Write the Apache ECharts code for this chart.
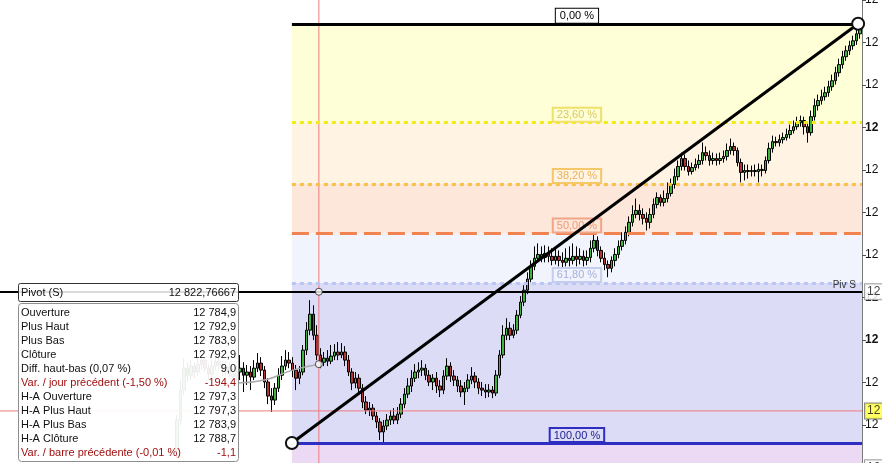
<!DOCTYPE html>
<html>
<head>
<meta charset="utf-8">
<script src="https://cdn.jsdelivr.net/npm/echarts@6/dist/echarts.min.js"></script>
<style>
  html, body { margin: 0; padding: 0; background: #fff; }
  #chart { width: 882px; height: 463px; }
</style>
</head>
<body>
<div id="chart"></div>
<script>
  // bars 0..49 are off screen / empty, data starts at bar 50
  var barCount = 246, firstBar = 50;

  var opens = [
    12748.3, 12762.4, 12776.5, 12786.8, 12783.5, 12787.8, 12785.0, 12788.7, 12790.6, 12786.8,
    12784.0, 12787.8, 12790.1, 12788.3, 12785.4, 12787.3, 12784.0, 12782.6, 12785.0, 12786.8,
    12783.5, 12785.0, 12782.6, 12786.8, 12789.2, 12785.9, 12780.3, 12773.7, 12771.8, 12777.4,
    12783.5, 12787.8, 12790.6, 12789.2, 12785.9, 12782.1, 12785.0, 12795.3, 12804.7, 12812.2,
    12802.3, 12793.0, 12789.6, 12791.5, 12790.1, 12792.5, 12794.4, 12793.0, 12794.4, 12790.6,
    12785.0, 12779.8, 12782.1, 12777.4, 12770.9, 12767.1, 12768.0, 12764.3, 12761.5, 12756.8,
    12759.6, 12762.4, 12764.3, 12762.4, 12765.2, 12769.9, 12774.6, 12778.4, 12782.1, 12785.0,
    12785.9, 12786.8, 12783.5, 12780.3, 12782.1, 12778.4, 12776.5, 12783.1, 12787.8, 12783.1,
    12781.2, 12778.4, 12775.6, 12777.4, 12781.2, 12783.1, 12780.3, 12777.4, 12776.5, 12775.6,
    12776.5, 12775.1, 12783.5, 12793.0, 12802.3, 12805.6, 12802.3, 12804.7, 12811.7, 12817.9,
    12823.5, 12828.7, 12834.7, 12838.5, 12840.3, 12838.9, 12840.8, 12839.4, 12837.5, 12839.4,
    12837.5, 12836.6, 12838.5, 12837.5, 12839.4, 12838.0, 12839.4, 12837.5, 12838.9, 12843.2,
    12846.9, 12842.2, 12838.5, 12835.6, 12833.8, 12837.5, 12840.3, 12844.1, 12846.9, 12850.7,
    12855.4, 12859.1, 12861.0, 12859.1, 12857.3, 12855.4, 12859.1, 12863.8, 12867.1, 12864.8,
    12866.6, 12869.0, 12873.2, 12876.9, 12881.7, 12885.4, 12881.7, 12879.3, 12881.2, 12882.6,
    12884.5, 12888.2, 12886.8, 12884.5, 12885.4, 12884.5, 12885.4, 12886.4, 12889.2, 12891.1,
    12889.2, 12883.5, 12878.9, 12879.8, 12879.3, 12879.8, 12879.3, 12880.3, 12879.8, 12884.5,
    12890.1, 12893.4, 12892.9, 12894.3, 12895.3, 12896.7, 12898.6, 12900.4, 12902.3, 12903.3,
    12900.4, 12897.6, 12905.1, 12910.3, 12912.7, 12914.5, 12916.4, 12919.2, 12922.0, 12925.8,
    12929.6, 12933.3, 12936.1, 12938.5, 12940.8, 12944.1
  ];
  var closes = [
    12762.4, 12776.5, 12786.8, 12783.5, 12787.8, 12785.0, 12788.7, 12790.6, 12786.8, 12784.0,
    12787.8, 12790.1, 12788.3, 12785.4, 12787.3, 12784.0, 12782.6, 12785.0, 12786.8, 12783.5,
    12785.0, 12782.6, 12786.8, 12789.2, 12785.9, 12780.3, 12773.7, 12771.8, 12777.4, 12783.5,
    12787.8, 12790.6, 12789.2, 12785.9, 12782.1, 12785.0, 12795.3, 12804.7, 12812.2, 12802.3,
    12793.0, 12789.6, 12791.5, 12790.1, 12792.5, 12794.4, 12793.0, 12794.4, 12790.6, 12785.0,
    12779.8, 12782.1, 12777.4, 12770.9, 12767.1, 12768.0, 12764.3, 12761.5, 12756.8, 12759.6,
    12762.4, 12764.3, 12762.4, 12765.2, 12769.9, 12774.6, 12778.4, 12782.1, 12785.0, 12785.9,
    12786.8, 12783.5, 12780.3, 12782.1, 12778.4, 12776.5, 12783.1, 12787.8, 12783.1, 12781.2,
    12778.4, 12775.6, 12777.4, 12781.2, 12783.1, 12780.3, 12777.4, 12776.5, 12775.6, 12776.5,
    12775.1, 12783.5, 12793.0, 12802.3, 12805.6, 12802.3, 12804.7, 12811.7, 12817.9, 12823.5,
    12828.7, 12834.7, 12838.5, 12840.3, 12838.9, 12840.8, 12839.4, 12837.5, 12839.4, 12837.5,
    12836.6, 12838.5, 12837.5, 12839.4, 12838.0, 12839.4, 12837.5, 12838.9, 12843.2, 12846.9,
    12842.2, 12838.5, 12835.6, 12833.8, 12837.5, 12840.3, 12844.1, 12846.9, 12850.7, 12855.4,
    12859.1, 12861.0, 12859.1, 12857.3, 12855.4, 12859.1, 12863.8, 12867.1, 12864.8, 12866.6,
    12869.0, 12873.2, 12876.9, 12881.7, 12885.4, 12881.7, 12879.3, 12881.2, 12882.6, 12884.5,
    12888.2, 12886.8, 12884.5, 12885.4, 12884.5, 12885.4, 12886.4, 12889.2, 12891.1, 12889.2,
    12883.5, 12878.9, 12879.8, 12879.3, 12879.8, 12879.3, 12880.3, 12879.8, 12884.5, 12890.1,
    12893.4, 12892.9, 12894.3, 12895.3, 12896.7, 12898.6, 12900.4, 12902.3, 12903.3, 12900.4,
    12897.6, 12905.1, 12910.3, 12912.7, 12914.5, 12916.4, 12919.2, 12922.0, 12925.8, 12929.6,
    12933.3, 12936.1, 12938.5, 12940.8, 12944.1, 12946.9
  ];
  var lows = [
    12744.5, 12760.1, 12774.1, 12780.3, 12781.2, 12782.1, 12783.1, 12785.9, 12785.0, 12781.2,
    12782.1, 12785.9, 12785.9, 12783.1, 12783.1, 12782.1, 12779.8, 12780.7, 12781.2, 12775.6,
    12778.9, 12776.5, 12781.2, 12785.0, 12783.1, 12777.4, 12769.9, 12766.2, 12769.5, 12775.6,
    12781.2, 12785.9, 12786.8, 12782.6, 12776.5, 12779.3, 12783.5, 12793.0, 12802.3, 12800.0,
    12790.6, 12786.8, 12787.8, 12787.8, 12788.7, 12790.6, 12790.6, 12791.5, 12787.8, 12783.1,
    12776.5, 12777.4, 12774.6, 12768.0, 12765.2, 12764.3, 12762.4, 12758.6, 12753.0, 12751.6,
    12757.7, 12760.1, 12760.5, 12760.5, 12763.3, 12768.0, 12772.7, 12775.6, 12780.3, 12782.1,
    12783.1, 12781.2, 12778.4, 12776.5, 12775.1, 12773.2, 12774.6, 12781.2, 12780.3, 12778.4,
    12775.6, 12773.2, 12769.5, 12775.6, 12779.3, 12777.4, 12774.6, 12773.7, 12772.7, 12773.2,
    12772.7, 12773.7, 12782.1, 12791.5, 12800.0, 12800.0, 12800.9, 12802.8, 12810.3, 12816.0,
    12821.6, 12827.2, 12832.9, 12836.6, 12836.6, 12836.6, 12836.6, 12835.2, 12835.6, 12834.7,
    12833.8, 12834.7, 12834.7, 12835.6, 12834.7, 12835.6, 12834.7, 12835.2, 12836.6, 12841.3,
    12839.4, 12836.6, 12832.9, 12829.6, 12831.9, 12834.7, 12838.5, 12842.2, 12845.0, 12848.8,
    12853.5, 12857.3, 12856.3, 12854.4, 12851.6, 12852.5, 12857.3, 12862.0, 12862.9, 12862.9,
    12864.8, 12867.6, 12871.3, 12875.1, 12879.8, 12879.8, 12877.4, 12877.9, 12879.8, 12880.7,
    12882.6, 12884.5, 12882.1, 12882.6, 12882.1, 12882.6, 12883.5, 12884.5, 12887.3, 12886.8,
    12881.7, 12874.2, 12875.1, 12876.0, 12877.0, 12877.0, 12874.2, 12877.0, 12878.4, 12883.1,
    12888.2, 12891.1, 12891.1, 12892.5, 12893.9, 12894.8, 12897.2, 12899.0, 12900.4, 12896.7,
    12892.9, 12896.2, 12903.3, 12908.0, 12910.8, 12912.7, 12914.5, 12917.3, 12920.2, 12923.9,
    12927.7, 12931.4, 12934.2, 12936.6, 12938.9, 12941.8
  ];
  var highs = [
    12764.8, 12781.2, 12791.5, 12789.6, 12790.6, 12789.6, 12791.5, 12792.5, 12792.0, 12788.7,
    12790.6, 12792.0, 12791.5, 12790.1, 12789.6, 12789.2, 12786.8, 12787.8, 12793.0, 12789.6,
    12788.3, 12787.8, 12790.6, 12793.9, 12792.0, 12787.8, 12782.1, 12777.4, 12779.8, 12786.8,
    12792.5, 12795.3, 12794.4, 12792.0, 12788.3, 12787.8, 12797.7, 12808.5, 12818.8, 12816.4,
    12807.0, 12796.2, 12794.4, 12795.3, 12797.7, 12798.1, 12799.1, 12798.6, 12797.2, 12793.0,
    12786.8, 12785.0, 12784.0, 12779.3, 12773.7, 12770.9, 12769.9, 12766.2, 12763.3, 12762.4,
    12765.2, 12767.1, 12768.0, 12768.5, 12772.7, 12777.4, 12782.1, 12785.9, 12788.7, 12789.6,
    12790.6, 12788.7, 12785.9, 12784.0, 12785.0, 12781.2, 12785.9, 12791.5, 12789.6, 12785.9,
    12783.1, 12781.2, 12780.3, 12784.0, 12787.3, 12785.0, 12782.1, 12780.3, 12779.3, 12779.3,
    12778.4, 12785.9, 12795.3, 12807.0, 12810.3, 12808.5, 12807.5, 12814.1, 12820.7, 12825.8,
    12831.9, 12837.5, 12844.1, 12845.5, 12844.1, 12844.6, 12844.1, 12843.2, 12843.2, 12842.2,
    12841.3, 12843.2, 12844.1, 12845.5, 12844.1, 12843.2, 12842.2, 12842.2, 12846.9, 12850.2,
    12848.8, 12844.1, 12841.3, 12837.5, 12839.4, 12843.2, 12846.9, 12850.7, 12853.5, 12858.2,
    12863.4, 12866.6, 12863.8, 12862.0, 12860.1, 12862.0, 12866.6, 12869.5, 12868.5, 12870.4,
    12874.2, 12876.0, 12880.7, 12884.5, 12888.2, 12887.3, 12884.5, 12883.5, 12885.4, 12887.3,
    12893.0, 12891.1, 12889.2, 12888.2, 12887.8, 12888.2, 12889.2, 12892.5, 12894.8, 12893.0,
    12890.6, 12885.4, 12882.6, 12882.6, 12882.1, 12882.6, 12883.1, 12882.6, 12886.4, 12892.9,
    12896.2, 12895.7, 12896.7, 12897.6, 12899.5, 12901.4, 12903.3, 12905.1, 12905.6, 12905.1,
    12902.3, 12908.0, 12913.6, 12915.5, 12917.8, 12919.2, 12922.0, 12924.9, 12928.6, 12932.4,
    12936.1, 12938.5, 12940.8, 12943.2, 12946.5, 12948.8
  ];

  // fibonacci retracement, anchored on two bar positions
  var fibLow = 12751.6, fibHigh = 12948.8;
  var fibStartBar = 82.8, fibEndBar = 244.4;
  var fibRatios = [0, 23.6, 38.2, 50, 61.8, 100];
  var fibLabels = ['0,00 %', '23,60 %', '38,20 %', '50,00 %', '61,80 %', '100,00 %'];

  var pivot = 12822.76667;
  var crossBar = 90.5, crossPrice = 12766.7;
  var curveBars = [67.4, 75.0, 83.0, 90.5];
  var curvePrices = [12779.8, 12781.2, 12785.9, 12788.7];

  var yMin = 12742.2, yMax = 12960;
  var priceTicks = [12760, 12780, 12800, 12820, 12840, 12860, 12880, 12900, 12920, 12940, 12960];

  var infoRows = [
    ['Ouverture', '12 784,9'],
    ['Plus Haut', '12 792,9'],
    ['Plus Bas', '12 783,9'],
    ['Clôture', '12 792,9'],
    ['Diff. haut-bas (0,07 %)', '9,0'],
    ['Var. / jour précédent (-1,50 %)', '-194,4'],
    ['H-A Ouverture', '12 797,3'],
    ['H-A Plus Haut', '12 797,3'],
    ['H-A Plus Bas', '12 783,9'],
    ['H-A Clôture', '12 788,7'],
    ['Var. / barre précédente (-0,01 %)', '-1,1']
  ];
  var infoRed = [5, 10];

  var FONT = '"Liberation Sans", Arial, sans-serif';

  var fibStyles = [
    {line: {color: '#000000', type: 'solid'}, text: '#000000', border: '#000000', bg: '#ffffff'},
    {line: {color: '#f3ea1a', type: [4, 4]}, text: '#d9c95c', border: '#efe06a', bg: 'transparent'},
    {line: {color: '#f7c04c', type: [4, 4]}, text: '#e9b458', border: '#f4c768', bg: 'transparent'},
    {line: {color: '#f0834f', type: [17, 7]}, text: '#ee9a72', border: '#f2a688', bg: 'transparent'},
    {line: {color: '#b9c6f3', type: [4, 4]}, text: '#a4afdc', border: '#c4cdee', bg: 'transparent'},
    {line: {color: '#2e2ec2', type: 'solid'}, text: '#1c1c8c', border: '#2e2ec2', bg: 'transparent'}
  ];
  var zoneColors = ['#fefed7', '#fff3e3', '#fde6da', '#f1f4fd', '#dcdcf7', '#ecdaf4'];
  var crossColor = '#ee7a7a';

  var cats = [];
  var candles = [];
  for (var i = 0; i < barCount; i++) {
    cats.push(String(i));
    var k = i - firstBar;
    candles.push(k >= 0 ? [opens[k], closes[k], lows[k], highs[k]] : ['-', '-', '-', '-']);
  }

  var levels = fibRatios.map(function (r) { return fibHigh - r / 100 * (fibHigh - fibLow); });
  var rightEdge = barCount - 0.5;

  var zones = [];
  for (var z = 0; z < levels.length; z++) {
    var bottom = z < levels.length - 1 ? levels[z + 1] : yMin;
    zones.push([
      {coord: [fibStartBar, levels[z]], itemStyle: {color: zoneColors[z]}},
      {coord: [rightEdge, bottom]}
    ]);
  }

  var fibLines = levels.map(function (lv, j) {
    var st = fibStyles[j];
    return [
      {
        coord: [fibStartBar, lv],
        lineStyle: {color: st.line.color, type: st.line.type, width: 3},
        label: {
          show: true, position: 'insideMiddleTop', distance: 1,
          formatter: fibLabels[j], color: st.text, fontSize: 11, fontFamily: FONT,
          borderColor: st.border, borderWidth: 1, backgroundColor: st.bg,
          padding: [2, 4, 1, 4]
        }
      },
      {coord: [rightEdge, lv]}
    ];
  });

  function priceText(v) {
    var s = String(Math.round(v / 20) * 20);
    return s.slice(0, 2) + ' ' + s.slice(2);
  }

  // the floating info panel (drawn over the chart)
  var panel = [];
  panel.push({type: 'rect', z: 100, shape: {x: 18.5, y: 303.5, width: 220, height: 158, r: 3},
    style: {fill: 'rgba(255,255,255,0.93)', stroke: '#8e8e8e', lineWidth: 1}});
  panel.push({type: 'rect', z: 100, shape: {x: 18.5, y: 283.5, width: 220, height: 18, r: 2},
    style: {fill: 'rgba(255,255,255,0.86)', stroke: '#333', lineWidth: 1}});
  panel.push({type: 'text', z: 101, x: 21, y: 293, style: {text: 'Pivot (S)', fill: '#111', font: '11px ' + FONT,
    textAlign: 'left', textVerticalAlign: 'middle', align: 'left', verticalAlign: 'middle'}});
  panel.push({type: 'text', z: 101, x: 236, y: 293, style: {text: '12 822,76667', fill: '#111', font: '11px ' + FONT,
    textAlign: 'right', textVerticalAlign: 'middle', align: 'right', verticalAlign: 'middle'}});
  infoRows.forEach(function (row, r) {
    var col = infoRed.indexOf(r) >= 0 ? '#a01010' : '#111';
    var yy = 313 + r * 14;
    panel.push({type: 'text', z: 101, x: 21, y: yy, style: {text: row[0], fill: col, font: '11px ' + FONT,
      textAlign: 'left', textVerticalAlign: 'middle', align: 'left', verticalAlign: 'middle'}});
    panel.push({type: 'text', z: 101, x: 236, y: yy, style: {text: row[1], fill: col, font: '11px ' + FONT,
      textAlign: 'right', textVerticalAlign: 'middle', align: 'right', verticalAlign: 'middle'}});
  });

  var chart = echarts.init(document.getElementById('chart'));
  var option = {
    animation: false,
    backgroundColor: '#ffffff',
    grid: {left: 0, right: 20, top: 0, bottom: 0, containLabel: false, outerBoundsMode: 'none'},
    xAxis: [
      {type: 'category', data: cats, boundaryGap: true, show: false},
      {type: 'value', min: -0.5, max: rightEdge, show: false}
    ],
    yAxis: {
      type: 'value', position: 'right', min: yMin, max: yMax, scale: true,
      splitLine: {show: false},
      axisLine: {show: true, onZero: false, lineStyle: {color: '#7a7a7a', width: 1}},
      axisTick: {show: true, length: 4, customValues: priceTicks, lineStyle: {color: '#555'}},
      axisLabel: {
        customValues: priceTicks, margin: 3, color: '#111', fontSize: 12, fontFamily: FONT,
        formatter: function (v) {
          var t = priceText(v);
          return Math.round(v) % 100 === 0 ? '{b|' + t + '}' : t;
        },
        rich: {b: {fontWeight: 'bold', fontSize: 12, fontFamily: FONT, color: '#111'}}
      }
    },
    graphic: {elements: panel},
    series: [
      {
        // zones behind candles
        type: 'line', xAxisIndex: 1, data: [], z: 0, silent: true,
        markArea: {silent: true, data: zones}
      },
      {
        type: 'candlestick', name: 'DAX', data: candles, barWidth: 3, z: 2,
        itemStyle: {
          color: '#3db53d', color0: '#b23530',
          borderColor: '#000', borderColor0: '#000', borderWidth: 1
        }
      },
      {
        type: 'line', xAxisIndex: 1, data: [], z: 3, silent: true,
        markLine: {silent: true, symbol: ['none', 'none'], data: fibLines}
      },
      {
        type: 'line', xAxisIndex: 1, z: 3, smooth: true, showSymbol: false, silent: true,
        data: curveBars.map(function (b, j) { return [b, curvePrices[j]]; }),
        lineStyle: {color: '#a9a9a9', width: 1.5}
      },
      {
        // pivot line
        type: 'line', xAxisIndex: 1, data: [], z: 4, silent: true,
        markLine: {
          silent: true, symbol: ['none', 'none'],
          data: [
            {yAxis: pivot, lineStyle: {color: '#000', width: 2, type: 'solid'},
              label: {show: true, position: 'insideEndTop', formatter: 'Piv S', color: '#333',
                fontSize: 10, fontFamily: FONT, distance: [6, 1]}}
          ]
        }
      },
      {
        // crosshair, horizontal
        type: 'line', xAxisIndex: 1, z: 4, silent: true, showSymbol: false,
        data: [[-0.5, crossPrice], [rightEdge, crossPrice]],
        lineStyle: {color: crossColor, width: 1}
      },
      {
        // crosshair, vertical
        type: 'line', xAxisIndex: 1, z: 4, silent: true, showSymbol: false,
        data: [[crossBar, yMin], [crossBar, yMax]],
        lineStyle: {color: crossColor, width: 1}
      },
      {
        // fibonacci anchor line
        type: 'line', xAxisIndex: 1, z: 5, silent: true,
        data: [[fibStartBar, fibLow], [fibEndBar, fibHigh]],
        symbol: 'circle', symbolSize: 12,
        itemStyle: {color: '#fff', borderColor: '#111', borderWidth: 2},
        lineStyle: {color: '#000', width: 3}
      },
      {
        type: 'scatter', xAxisIndex: 1, z: 6, silent: true, symbolSize: 7,
        data: [[crossBar, curvePrices[curvePrices.length - 1]], [crossBar, pivot]],
        itemStyle: {color: '#fff', borderColor: '#222', borderWidth: 1}
      },
      {
        // price badges on the axis
        type: 'scatter', xAxisIndex: 1, z: 20, silent: true, clip: false, symbolSize: 0,
        data: [
          {value: [rightEdge, pivot], label: {formatter: '12 822,8', backgroundColor: '#fff', borderColor: '#8a8a8a'}},
          {value: [rightEdge, crossPrice], label: {formatter: '12 766,7', backgroundColor: '#ffff3a', borderColor: '#666'}},
          {value: [rightEdge, 12740], label: {formatter: '12 740,0', backgroundColor: '#fff', borderColor: '#8a8a8a'}}
        ],
        label: {show: true, position: 'right', distance: 3, color: '#111', fontSize: 12, fontFamily: FONT,
          borderWidth: 1, padding: [2, 2, 1, 2]}
      }
    ]
  };
  chart.setOption(option);
</script>
</body>
</html>
